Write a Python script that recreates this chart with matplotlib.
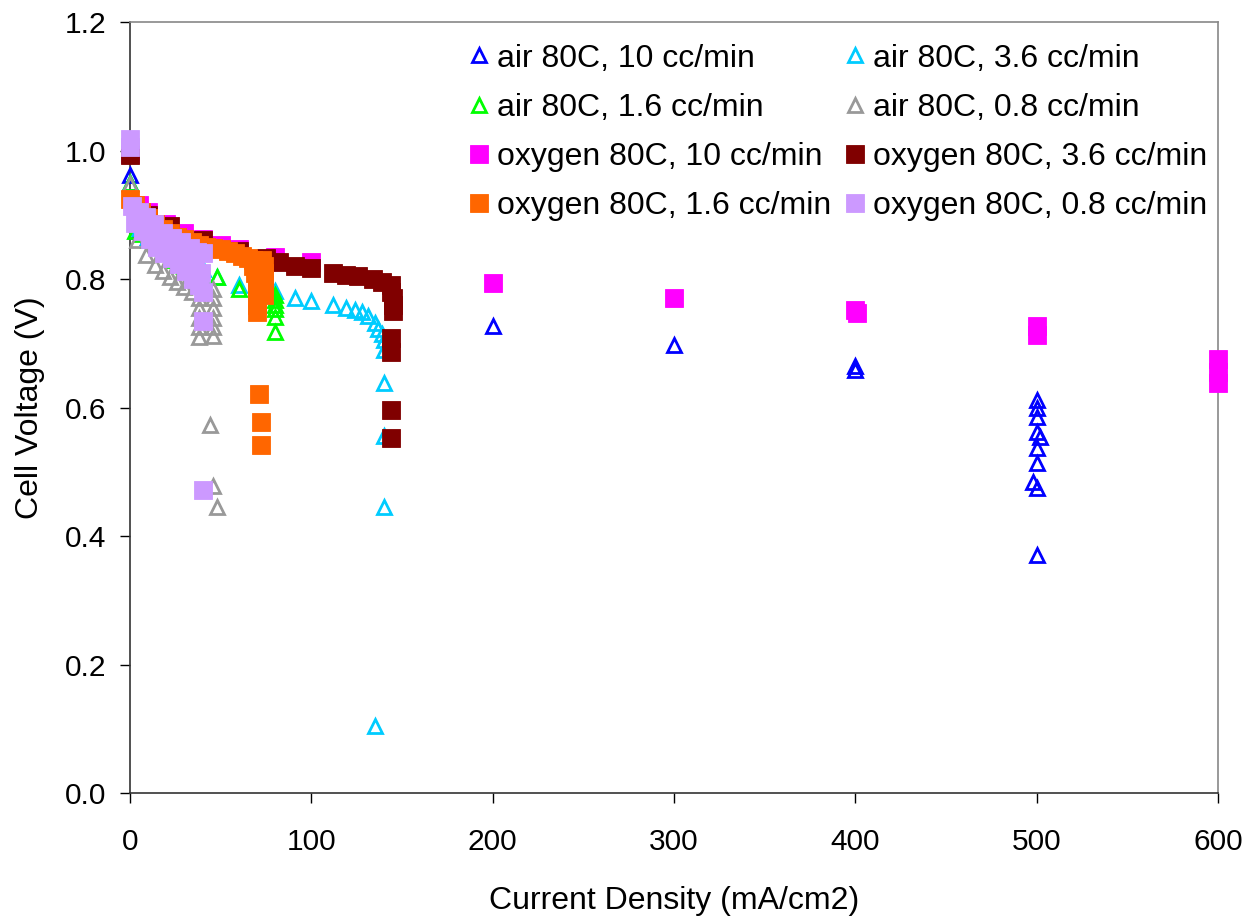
"""Cell voltage vs current density - air / oxygen at several flow rates."""
import matplotlib
matplotlib.use('Agg')
import matplotlib.pyplot as plt

plt.rcParams.update({
    'font.family': ['Liberation Sans', 'DejaVu Sans'],
    'font.size': 23,
})

# ---- data ----
air10_x = [0, 5, 10, 200, 300, 400, 400,
           500, 500, 500, 500, 502, 500, 500, 498, 500, 500]
air10_v = [0.962, 0.875, 0.865, 0.727, 0.697, 0.665, 0.658,
           0.612, 0.600, 0.585, 0.562, 0.554, 0.537, 0.513, 0.484, 0.475, 0.370]

air36_x = [0, 5, 10, 20, 30, 40, 48, 60, 80, 91, 100, 112, 119, 124, 128, 131,
           135, 137, 139, 140, 140, 140, 140, 140, 135]
air36_v = [0.950, 0.880, 0.865, 0.845, 0.830, 0.815, 0.803, 0.790, 0.782, 0.770,
           0.766, 0.760, 0.755, 0.752, 0.748, 0.742, 0.732, 0.722, 0.715, 0.705,
           0.690, 0.638, 0.555, 0.445, 0.105]

air16_x = [0, 3, 6, 10, 15, 20, 25, 30, 35, 40, 48, 60, 80, 80, 80, 80, 80, 80]
air16_v = [0.950, 0.875, 0.870, 0.860, 0.850, 0.840, 0.830, 0.820, 0.810, 0.800,
           0.803, 0.785, 0.775, 0.768, 0.760, 0.753, 0.741, 0.718]

air08_x = [0, 4, 9, 14, 18, 22, 26, 30, 34, 38, 38, 38, 38, 38,
           46, 46, 46, 46, 46, 46, 44, 46, 48]
air08_v = [0.948, 0.860, 0.838, 0.822, 0.812, 0.803, 0.795, 0.787, 0.780, 0.770,
           0.755, 0.740, 0.725, 0.710, 0.785, 0.770, 0.755, 0.740, 0.725, 0.712,
           0.573, 0.478, 0.445]

oxy10_x = [0, 5, 10, 20, 30, 40, 50, 60, 80, 100, 200, 300, 400, 401,
           500, 500, 600, 600, 600]
oxy10_v = [0.995, 0.915, 0.905, 0.886, 0.872, 0.862, 0.853, 0.846, 0.834, 0.827,
           0.794, 0.770, 0.752, 0.747, 0.727, 0.713, 0.675, 0.656, 0.638]

oxy36_x = [0, 10, 22, 40, 60, 75, 82, 91, 100, 112, 119, 126, 134, 139,
           144, 144, 145, 145, 145, 144, 144, 144, 144]
oxy36_v = [0.993, 0.900, 0.882, 0.860, 0.843, 0.832, 0.826, 0.820, 0.817, 0.810,
           0.807, 0.805, 0.800, 0.795, 0.790, 0.780, 0.770, 0.760, 0.750, 0.708,
           0.686, 0.596, 0.553]

oxy16_x = [0, 3, 6, 10, 14, 18, 22, 26, 30, 34, 38, 42, 46, 50, 54, 58, 62, 65,
           68, 68, 69, 70, 70, 70, 70, 70, 70, 73, 74, 74, 74, 74, 74, 71, 72, 72]
oxy16_v = [0.925, 0.915, 0.905, 0.895, 0.885, 0.878, 0.872, 0.866, 0.862, 0.857,
           0.853, 0.850, 0.848, 0.846, 0.844, 0.840, 0.836, 0.833, 0.830, 0.820,
           0.810, 0.800, 0.790, 0.780, 0.770, 0.760, 0.748, 0.830, 0.820, 0.810,
           0.800, 0.790, 0.775, 0.621, 0.577, 0.541]

oxy08_x = [0, 0, 1, 5, 9, 13, 18, 23, 28, 33, 37, 40,
           3, 7, 11, 15, 19, 23, 27, 31, 35, 38, 40,
           4, 8, 12, 17, 21, 25, 29, 33, 36, 39, 40, 40]
oxy08_v = [1.018, 1.005, 0.914, 0.905, 0.896, 0.886, 0.872, 0.864, 0.858, 0.848,
           0.842, 0.840,
           0.888, 0.875, 0.862, 0.850, 0.840, 0.832, 0.824, 0.812, 0.800, 0.790,
           0.780,
           0.900, 0.885, 0.874, 0.862, 0.853, 0.846, 0.838, 0.828, 0.820, 0.810,
           0.735, 0.471]

labels = ['air 80C, 10 cc/min', 'air 80C, 3.6 cc/min',
          'air 80C, 1.6 cc/min', 'air 80C, 0.8 cc/min',
          'oxygen 80C, 10 cc/min', 'oxygen 80C, 3.6 cc/min',
          'oxygen 80C, 1.6 cc/min', 'oxygen 80C, 0.8 cc/min']

air_series = [(air10_x, air10_v, '#0000FF'), (air36_x, air36_v, '#00CCFF'),
              (air16_x, air16_v, '#00FF00'), (air08_x, air08_v, '#999999')]
oxy_series = [(oxy10_x, oxy10_v, '#FF00FF'), (oxy36_x, oxy36_v, '#800000'),
              (oxy16_x, oxy16_v, '#FF6600'), (oxy08_x, oxy08_v, '#CC99FF')]

fig = plt.figure(figsize=(12.51, 9.19), dpi=100)
ax = fig.add_axes([0.1039, 0.1371, 0.8697, 0.8389])

handles = []
for (xs, vs, c), lab in zip(air_series, labels[:4]):
    h, = ax.plot(xs, vs, linestyle='none', marker='^', ms=10.5, mew=2,
                 mfc='none', mec=c, label=lab, clip_on=False, zorder=3)
    handles.append(h)
for (xs, vs, c), lab in zip(oxy_series, labels[4:]):
    h, = ax.plot(xs, vs, linestyle='none', marker='s', ms=13, mew=0.6,
                 mfc=c, mec=c, label=lab, clip_on=False, zorder=4)
    handles.append(h)

ax.set_xlim(0, 600)
ax.set_ylim(0, 1.2)
ax.set_xticks(range(0, 601, 100))
ax.set_yticks([0.0, 0.2, 0.4, 0.6, 0.8, 1.0, 1.2])
ax.set_yticklabels([f'{t:.1f}' for t in ax.get_yticks()])
ax.tick_params(direction='out', length=7, width=1, labelsize=21.5)
ax.tick_params(axis='x', pad=18)
ax.tick_params(axis='y', pad=10)

for s in ['left', 'bottom']:
    ax.spines[s].set_color('#333333')
    ax.spines[s].set_linewidth(1.2)
for s in ['top', 'right']:
    ax.spines[s].set_color('#888888')
    ax.spines[s].set_linewidth(1.2)

ax.set_xlabel('Current Density (mA/cm2)', fontsize=23, labelpad=22)
ax.set_ylabel('Cell Voltage (V)', fontsize=23, labelpad=14)

# legend: row-wise order in the reference -> reorder for column fill
order = [0, 2, 4, 6, 1, 3, 5, 7]
ax.legend([handles[i] for i in order], [labels[i] for i in order],
          ncol=2, frameon=False, fontsize=23, loc='upper right',
          bbox_to_anchor=(0.99, 0.972), handlelength=0.6, handletextpad=0.25,
          columnspacing=0.45, labelspacing=0.6, borderaxespad=0, borderpad=0)

fig.savefig('out.png', dpi=100)
